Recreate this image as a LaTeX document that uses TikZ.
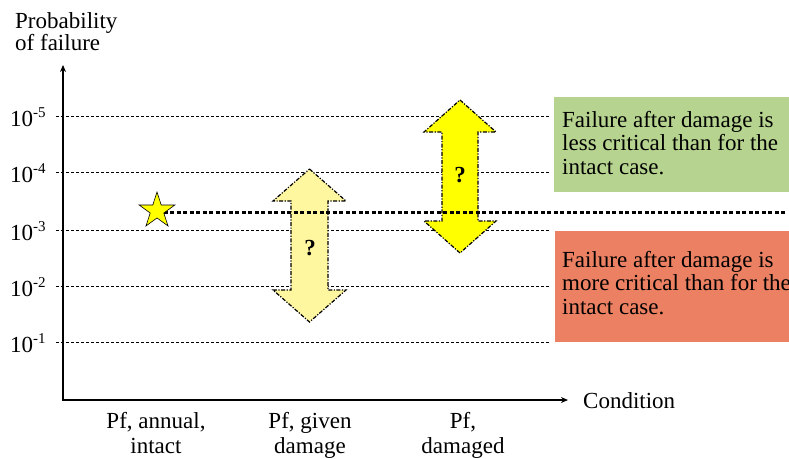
\documentclass[tikz,border=0pt]{standalone}
\usepackage{fontspec}
\setmainfont{Liberation Serif}
\usetikzlibrary{arrows.meta,shapes.geometric}
\definecolor{paleyellow}{RGB}{255,247,160}
\definecolor{brightyellow}{RGB}{255,255,0}
\definecolor{greenbox}{RGB}{182,212,143}
\definecolor{redbox}{RGB}{235,128,98}
\newcommand{\tick}[1]{10\raisebox{9pt}{\fontsize{15}{15}\selectfont -#1}}
\begin{document}
\begin{tikzpicture}[x=1pt,y=-1pt,
  txt/.style={font=\fontsize{23}{25}\selectfont, inner sep=0pt},
  gridline/.style={line width=1pt, dash pattern=on 3pt off 2pt},
  axisline/.style={line width=2.5pt, line join=miter, {Stealth[length=7pt,width=6pt]}-{Stealth[length=7pt,width=6pt]}},
  bigarrow/.style={line width=1.2pt, dash pattern=on 4pt off 1.5pt on 1.2pt off 1.5pt},
  refline/.style={line width=3pt, dash pattern=on 4pt off 2.5pt},
  infobox/.style={draw=none}]
\useasboundingbox (0,0) rectangle (789,458);

% axis titles
\node[txt, anchor=base west] (yt1) at (15,28) {Probability};
\node[txt, anchor=base west] (yt2) at (15,50) {of failure};
\node[txt, anchor=base west] (xt) at (583,408) {Condition};

% grid lines and tick labels
\foreach \e/\y in {5/116,4/172,3/230,2/286,1/342}{
  \coordinate (gl\e) at (56,\y);
  \coordinate (gr\e) at (550,\y);
  \draw[gridline] (gl\e) -- (gr\e);
  \node[txt, anchor=base west] (tk\e) at (10,\y+10) {\tick{\e}};
}

% boxes
\fill[greenbox] (554,97) rectangle (789,192);
\fill[redbox] (555,231) rectangle (789,342);
\node[txt, anchor=base west] (g1) at (562,127) {Failure after damage is};
\node[txt, anchor=base west] (g2) at (562,150.5) {less critical than for the};
\node[txt, anchor=base west] (g3) at (562,174) {intact case.};
\node[txt, anchor=base west] (r1) at (562,267) {Failure after damage is};
\node[txt, anchor=base west] (r2) at (562,290.5) {more critical than for the};
\node[txt, anchor=base west] (r3) at (562,314) {intact case.};

% double arrows
\draw[bigarrow, fill=paleyellow]
  (309.5,169) -- (346,201) -- (328,201) -- (328,290) -- (346,290) -- (309.5,322)
  -- (273,290) -- (291,290) -- (291,201) -- (273,201) -- cycle;
\draw[bigarrow, fill=brightyellow]
  (460,100) -- (496,132) -- (478,132) -- (478,221) -- (496,221) -- (460,253)
  -- (424,221) -- (442,221) -- (442,132) -- (424,132) -- cycle;
\node[txt, font=\fontsize{23}{25}\selectfont\bfseries] (q1) at (310,248) {?};
\node[txt, font=\fontsize{23}{25}\selectfont\bfseries] (q2) at (460,175) {?};

% reference line and star
\coordinate (refend) at (786,212);
\node[star, star points=5, star point ratio=2.618, minimum size=37.5pt, inner sep=0pt] (st) at (157,210.8) {};
\draw[refline] (st.center |- refend) -- (refend);
\node[star, star points=5, star point ratio=2.618, minimum size=37.5pt, inner sep=0pt,
  draw, line width=0.6pt, fill=brightyellow] (star) at (157,210.8) {};

% axes
\coordinate (O) at (63,400);
\coordinate (ytop) at (63,65);
\coordinate (xend) at (568,400);
\draw[axisline] (ytop) -- (O) -- (xend);

% condition labels
\node[txt, anchor=base] (c1a) at (156,428) {Pf, annual,};
\node[txt, anchor=base] (c1b) at (156,453) {intact};
\node[txt, anchor=base] (c2a) at (310,428) {Pf, given};
\node[txt, anchor=base] (c2b) at (310,453) {damage};
\node[txt, anchor=base] (c3a) at (463,428) {Pf,};
\node[txt, anchor=base] (c3b) at (463,453) {damaged};
\end{tikzpicture}
\end{document}
